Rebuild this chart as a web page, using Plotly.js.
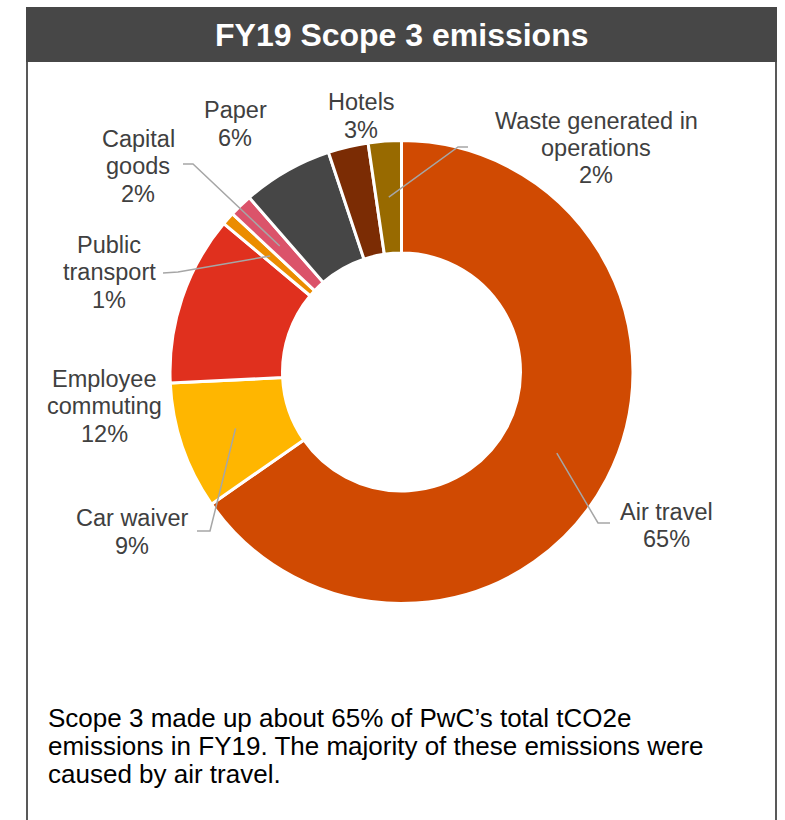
<!DOCTYPE html>
<html>
<head>
<meta charset="utf-8">
<script src="https://cdn.plot.ly/plotly-3.0.1.min.js"></script>
<style>html,body{margin:0;padding:0;background:#fff;}#chart{width:785px;height:820px;}</style>
</head>
<body>
<div id="chart"></div>
<script>
// ---- data ----
const categories = ['Air travel','Car waiver','Employee commuting','Public transport','Capital goods','Paper','Hotels','Waste generated in operations'];
const values = [65.2, 8.9, 11.8, 0.9, 1.6, 6.3, 2.8, 2.3];
const labelLines = [['Air travel'],['Car waiver'],['Employee','commuting'],['Public','transport'],['Capital','goods'],['Paper'],['Hotels'],['Waste generated in','operations']];
const titleText = 'FY19 Scope 3 emissions';
const noteLines = ['Scope 3 made up about 65% of PwC\u2019s total tCO2e','emissions in FY19. The majority of these emissions were','caused by air travel.'];

// ---- style / layout ----
const colors = ['#D04A02','#FFB600','#E0301E','#EB8C00','#DB536A','#464646','#7B2C04','#986A00'];
const W = 785, H = 820;
const cx = 401.5, cy = 372, R = 231.5, holeFrac = 0.514;
const px = x => x / W, py = y => 1 - y / H;
// label block centres (pixels) and leader elbows
const labelPos = [[666,525.5],[132,532],[104,406],[109,272.5],[138,166],[235,124],[361,116],[596,148]];
const lineGap = 27.5;
const leaders = { // [start, elbow] in pixels
  0: [[610,523],[598,523]],
  1: [[197,531],[210,531]],
  3: [[163,273],[178,272]],
  4: [[183,164],[193,164]],
  7: [[468,147],[458,147]]
};

const total = values.reduce((a,b)=>a+b,0);
const font = 'Liberation Sans, Arial, sans-serif';

const annotations = [];
const shapes = [];

// header
shapes.push({type:'rect', xref:'paper', yref:'paper', x0:px(26), x1:px(777), y0:py(62), y1:py(7), fillcolor:'#474747', line:{width:0}, layer:'below'});
shapes.push({type:'line', xref:'paper', yref:'paper', x0:px(27), x1:px(27), y0:py(62), y1:py(820), line:{color:'#595959', width:2}});
shapes.push({type:'line', xref:'paper', yref:'paper', x0:px(776), x1:px(776), y0:py(62), y1:py(820), line:{color:'#595959', width:2}});
annotations.push({text:'<b>'+titleText+'</b>', xref:'paper', yref:'paper', x:px(401.5), y:py(35), xanchor:'center', yanchor:'middle', showarrow:false, font:{family:font, size:32, color:'#ffffff'}});

// slice labels
let cum = 0;
categories.forEach((c,i)=>{
  const pct = Math.round(values[i]/total*100);
  const lines = labelLines[i].concat([pct+'%']);
  const n = lines.length;
  lines.forEach((t,k)=>{
    annotations.push({text:t, xref:'paper', yref:'paper', x:px(labelPos[i][0]), y:py(labelPos[i][1] + (k-(n-1)/2)*lineGap), xanchor:'center', yanchor:'middle', align:'center', showarrow:false, font:{family:font, size:23.5, color:'#404040'}});
  });
  const mid = (cum + values[i]/2)/total * 2*Math.PI;
  cum += values[i];
  if (leaders[i]) {
    const rr = R*(1+holeFrac)/2;
    const ex = cx + rr*Math.sin(mid), ey = cy - rr*Math.cos(mid);
    const [s,e] = leaders[i];
    shapes.push({type:'path', xref:'paper', yref:'paper',
      path:`M ${px(s[0])} ${py(s[1])} L ${px(e[0])} ${py(e[1])} L ${px(ex)} ${py(ey)}`,
      line:{color:'#A6A6A6', width:1.5}});
  }
});

// note text
noteLines.forEach((t,k)=>{
  annotations.push({text:t, xref:'paper', yref:'paper', x:px(46), y:py(718 + k*28), xanchor:'left', yanchor:'middle', align:'left', showarrow:false, font:{family:font, size:26, color:'#000000'}});
});

const trace = {
  type:'pie', labels:categories, values:values, sort:false, direction:'clockwise', rotation:0,
  hole:holeFrac, textinfo:'none', hoverinfo:'label+percent',
  marker:{colors:colors, line:{color:'#ffffff', width:3}},
  domain:{x:[px(cx-R), px(cx+R)], y:[py(cy+R), py(cy-R)]},
  showlegend:false
};

const layout = {
  width:W, height:H, margin:{l:0,r:0,t:0,b:0},
  paper_bgcolor:'#ffffff', plot_bgcolor:'#ffffff',
  showlegend:false, annotations:annotations, shapes:shapes
};
Plotly.newPlot('chart',[trace],layout,{displayModeBar:false, staticPlot:true});
</script>
</body>
</html>
